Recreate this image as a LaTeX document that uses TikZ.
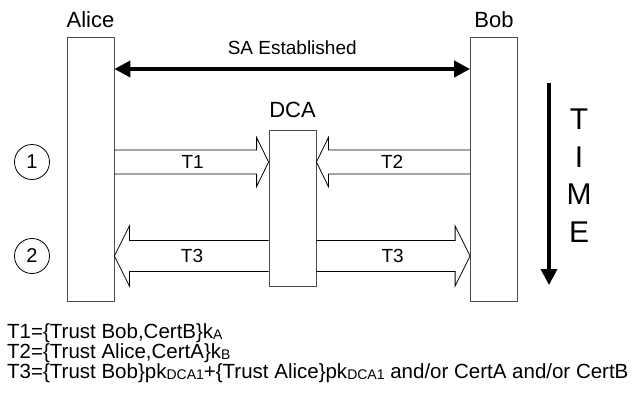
\documentclass[tikz,border=0pt]{standalone}
\usepackage{fontspec}
\setmainfont{Liberation Sans}
\usetikzlibrary{calc,arrows.meta,positioning}

% small lowered index, as in k_A
\newcommand{\smsub}[1]{\raisebox{-1pt}{\fontsize{14}{14}\selectfont #1}}
% block arrow: from, to, shaft half width, head half width, head length, text, label name
\newcommand{\fatarrow}[7]{%
  \coordinate (fab) at ($(#2)!#5!(#1)$);
  \draw[fat] ($(#1)+(0,-#3)$) -- ($(fab)+(0,-#3)$) -- ($(fab)+(0,-#4)$) -- (#2)
    -- ($(fab)+(0,#4)$) -- ($(fab)+(0,#3)$) -- ($(#1)+(0,#3)$);
  \node[lbl] (#7) at ($(#1)!0.55!(fab)$) {#6};
}

\begin{document}
\begin{tikzpicture}[x=1pt, y=-1pt,
    party/.style={draw=black!70, line width=0.8pt, inner sep=0pt, minimum width=47pt},
    who/.style={font=\fontsize{22}{22}\selectfont},
    fat/.style={draw=black, line width=0.8pt, line join=miter},
    lbl/.style={font=\fontsize{19}{19}\selectfont, inner sep=0pt},
    stepnum/.style={circle, draw, line width=0.8pt, minimum size=35pt, inner sep=0pt,
      font=\fontsize{20}{20}\selectfont},
    legend/.style={anchor=base west, inner sep=0pt, font=\fontsize{20.5}{20.5}\selectfont}]
    \useasboundingbox (0,0) rectangle (634,392);

    % Parties
    \node[party, minimum height=264pt] (alice) at (90.5,169) {};
    \node[party, minimum height=264pt] (bob) at (494,169) {};
    \node[party, minimum height=156pt] (dca) at (292.5,208) {};
    \node[who, above=5pt of alice] (alicename) {Alice};
    \node[who, above=5pt of bob] (bobname) {Bob};
    \node[who, above=8.7pt of dca] (dcaname) {DCA};

    % SA established
    \coordinate (saline) at (0,69);
    \draw[line width=4.5pt, {Triangle[length=16pt,width=16pt]}-{Triangle[length=16pt,width=16pt]}]
        (alice.east |- saline) -- node[lbl, above=12pt] (salbl) {SA Established} (bob.west |- saline);

    % Steps
    \node[stepnum] (c1) at (32,162) {1};
    \node[stepnum] (c2) at (32,256) {2};

    % Messages
    \fatarrow{alice.east |- c1}{dca.west |- c1}{12}{24.5}{12pt}{T1}{t1}
    \fatarrow{bob.west |- c1}{dca.east |- c1}{12}{24.5}{12pt}{T2}{t2}
    \fatarrow{dca.west |- c2}{alice.east |- c2}{15.5}{30}{15pt}{T3}{t3a}
    \fatarrow{dca.east |- c2}{bob.west |- c2}{15.5}{30}{15pt}{T3}{t3b}

    % Time
    \coordinate (tstart) at (549,83);
    \coordinate (tend) at (549,285);
    \draw[line width=3.5pt, -{Triangle[length=16pt,width=16pt]}] (tstart) -- (tend);
    \foreach \ch [count=\i] in {T,I,M,E}
        \node[font=\fontsize{30}{30}\selectfont] (time\i) at (579,81.3+37.7*\i) {\ch};

    % Legend
    \node[legend] (leg1) at (7,338) {T1=\{Trust Bob,CertB\}k\smsub{A}};
    \node[legend] (leg2) at (7,358) {T2=\{Trust Alice,CertA\}k\smsub{B}};
    \node[legend] (leg3) at (7,378) {T3=\{Trust Bob\}pk\smsub{DCA1}+\{Trust Alice\}pk\smsub{DCA1} and/or CertA and/or CertB};
\end{tikzpicture}
\end{document}
